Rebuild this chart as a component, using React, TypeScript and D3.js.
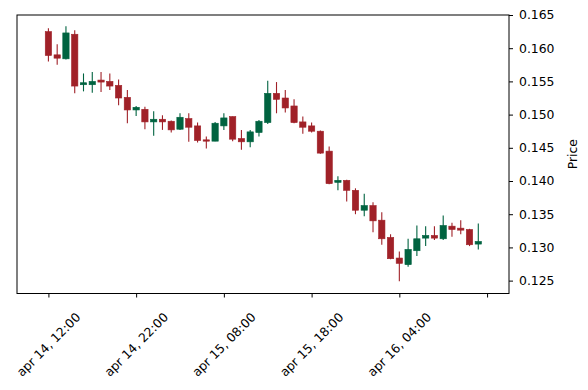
// react
import { useEffect, useRef } from "react";

// d3
import * as d3 from "d3";

// hourly candles, starting apr 14 12:00
const OPEN = [
  0.1625, 0.159, 0.1584, 0.1621, 0.1545, 0.1545, 0.1552, 0.155, 0.1544, 0.1526,
  0.1507, 0.1508, 0.1489, 0.1493, 0.149, 0.1478, 0.1494, 0.1483, 0.1462, 0.146,
  0.1483, 0.1497, 0.1464, 0.1459, 0.1473, 0.1488, 0.1532, 0.1525, 0.1513, 0.1489,
  0.1483, 0.1475, 0.1445, 0.1398, 0.1401, 0.1386, 0.1356, 0.1363, 0.1341, 0.1315,
  0.1284, 0.1274, 0.1295, 0.1314, 0.1318, 0.1313, 0.1332, 0.1329, 0.1327, 0.1305,
];
const HIGH = [
  0.163, 0.1606, 0.1633, 0.1627, 0.1562, 0.1564, 0.1564, 0.1562, 0.1553, 0.1537,
  0.1513, 0.1512, 0.1505, 0.1499, 0.1491, 0.1502, 0.1502, 0.1488, 0.1467, 0.1489,
  0.1502, 0.1497, 0.1477, 0.1477, 0.1492, 0.1551, 0.1549, 0.1537, 0.1523, 0.1497,
  0.1488, 0.1476, 0.1452, 0.1407, 0.1402, 0.1389, 0.1381, 0.1368, 0.1353, 0.132,
  0.1294, 0.1313, 0.1333, 0.1332, 0.1332, 0.1348, 0.1337, 0.1341, 0.1328, 0.1336,
];
const LOW = [
  0.158, 0.1575, 0.1583, 0.1532, 0.1535, 0.1533, 0.1534, 0.1537, 0.1514, 0.1487,
  0.1498, 0.1478, 0.1468, 0.1477, 0.1473, 0.1477, 0.1459, 0.1458, 0.1449, 0.146,
  0.1477, 0.146, 0.1447, 0.1451, 0.1467, 0.1486, 0.1502, 0.1503, 0.1487, 0.1471,
  0.1473, 0.1441, 0.1395, 0.1386, 0.1369, 0.135, 0.1347, 0.1323, 0.1304, 0.1282,
  0.1249, 0.1271, 0.1287, 0.1302, 0.1311, 0.1311, 0.1316, 0.132, 0.1302, 0.1297,
];
const CLOSE = [
  0.1589, 0.1585, 0.1623, 0.1543, 0.1548, 0.155, 0.1549, 0.1543, 0.1525, 0.1507,
  0.1511, 0.1489, 0.1493, 0.1489, 0.1477, 0.1496, 0.1481, 0.1461, 0.146, 0.1487,
  0.1495, 0.1463, 0.1459, 0.1474, 0.149, 0.1532, 0.1523, 0.151, 0.1488, 0.1481,
  0.1475, 0.1442, 0.1396, 0.1401, 0.1386, 0.1356, 0.1363, 0.134, 0.1313, 0.1283,
  0.1276, 0.1297, 0.1313, 0.1318, 0.1314, 0.1333, 0.1327, 0.1326, 0.1304, 0.1309,
];

const TICK_INDEX = [0, 10, 20, 30, 40, 50];
const TICK_LABELS = ["apr 14, 12:00", "apr 14, 22:00", "apr 15, 08:00", "apr 15, 18:00", "apr 16, 04:00", ""];
const Y_TICKS = [0.125, 0.13, 0.135, 0.14, 0.145, 0.15, 0.155, 0.16, 0.165];

const UP = "#006340";
const DOWN = "#a02128";
const FONT = "DejaVu Sans, sans-serif";
const FS = 12.4;

export default function App() {
  const ref = useRef<SVGSVGElement>(null);

  useEffect(() => {
    if (!ref.current) return;
    const svg = d3.select(ref.current);
    svg.selectAll("*").remove();

    const W = 588;
    const H = 390;
    const m = { top: 15, right: 79, bottom: 96.5, left: 17 };
    const w = W - m.left - m.right;
    const h = H - m.top - m.bottom;

    const x = d3.scaleLinear().domain([-3.58, 52.5]).range([0, w]);
    const y = d3.scaleLinear().domain([0.12306, 0.165]).range([h, 0]);

    const g = svg.append("g").attr("transform", `translate(${m.left},${m.top})`);

    const candles = OPEN.map((o, i) => ({ i, o, h: HIGH[i], l: LOW[i], c: CLOSE[i] }));
    const half = 0.36;

    // wicks
    g.selectAll(".wick")
      .data(candles)
      .join("line")
      .attr("x1", (d) => x(d.i))
      .attr("x2", (d) => x(d.i))
      .attr("y1", (d) => y(d.h))
      .attr("y2", (d) => y(d.l))
      .attr("stroke", (d) => (d.c >= d.o ? UP : DOWN))
      .attr("stroke-width", 1.1);

    // bodies
    g.selectAll(".body")
      .data(candles)
      .join("rect")
      .attr("x", (d) => x(d.i - half))
      .attr("width", x(half) - x(-half))
      .attr("y", (d) => y(Math.max(d.o, d.c)))
      .attr("height", (d) => Math.max(1, Math.abs(y(d.o) - y(d.c))))
      .attr("fill", (d) => (d.c >= d.o ? UP : DOWN))
      .attr("stroke", (d) => (d.c >= d.o ? UP : DOWN))
      .attr("stroke-width", 0.6);

    // frame
    g.append("rect")
      .attr("width", w)
      .attr("height", h)
      .attr("fill", "none")
      .attr("stroke", "#000")
      .attr("stroke-width", 1);

    // x axis
    g.append("g")
      .attr("transform", `translate(0,${h})`)
      .call(d3.axisBottom(x).tickValues(TICK_INDEX).tickSize(4).tickFormat(() => ""))
      .call((a) => {
        a.select(".domain").remove();
        a.selectAll("line").attr("stroke", "#000");
      });

    TICK_INDEX.forEach((t, i) => {
      g.append("text")
        .attr("transform", `translate(${x(t)},${h + 51}) rotate(-45)`)
        .attr("text-anchor", "middle")
        .attr("dominant-baseline", "central")
        .attr("font-family", FONT)
        .attr("font-size", FS)
        .attr("fill", "#000")
        .text(TICK_LABELS[i]);
    });

    // y axis (right)
    g.append("g")
      .attr("transform", `translate(${w},0)`)
      .call(d3.axisRight(y).tickValues(Y_TICKS).tickSize(4).tickPadding(6).tickFormat(d3.format(".3f")))
      .call((a) => {
        a.select(".domain").remove();
        a.selectAll("line").attr("stroke", "#000");
        a.selectAll("text")
          .attr("font-family", FONT)
          .attr("font-size", FS)
          .attr("fill", "#000");
      });

    g.append("text")
      .attr("transform", `translate(${w + 63},${h / 2}) rotate(-90)`)
      .attr("text-anchor", "middle")
      .attr("dominant-baseline", "central")
      .attr("font-family", FONT)
      .attr("font-size", FS)
      .attr("fill", "#000")
      .text("Price");
  }, []);

  return (
    <svg
      ref={ref}
      width={588}
      height={390}
      style={{ position: "absolute", left: 0, top: 0, background: "#fff" }}
    />
  );
}
